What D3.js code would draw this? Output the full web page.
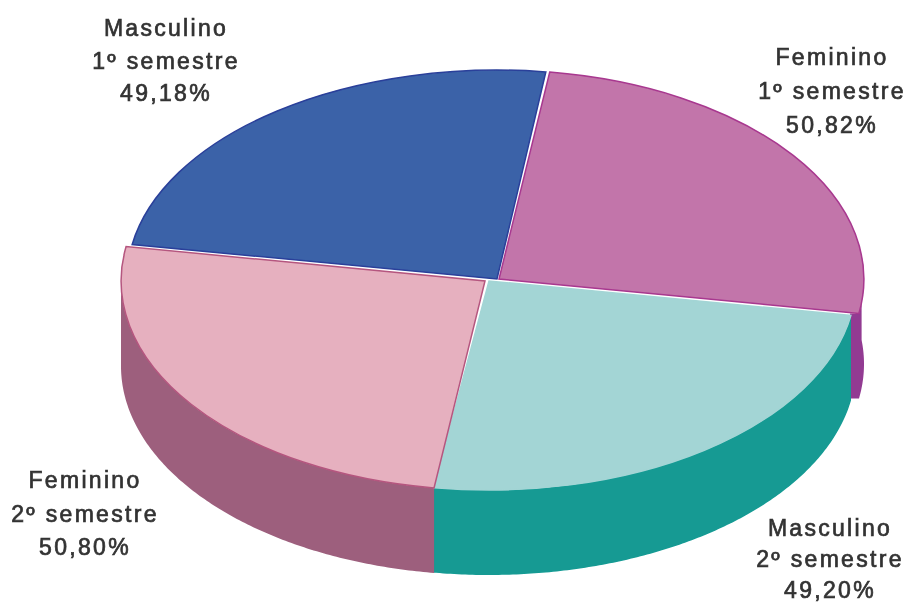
<!DOCTYPE html>
<html><head><meta charset="utf-8">
<script src="https://cdnjs.cloudflare.com/ajax/libs/d3/7.8.5/d3.min.js"></script>
<style>html,body{margin:0;padding:0;background:#fff}svg{display:block}
text{font-family:"Liberation Sans",Arial,sans-serif;font-size:23px;letter-spacing:2.3px;fill:#333;text-anchor:middle;stroke:#333;stroke-width:.7px}</style>
</head><body><svg id="c" width="907" height="602"></svg>
<script>
const categories=["Feminino 1º semestre","Masculino 2º semestre","Feminino 2º semestre","Masculino 1º semestre"];
const values=[50.82,49.20,50.80,49.18];
const labelLines=[["Feminino","1º semestre","50,82%"],["Masculino","2º semestre","49,20%"],["Feminino","2º semestre","50,80%"],["Masculino","1º semestre","49,18%"]];
const topColors=["#c274aa","#a3d5d5","#e6b0bf","#3a62a8"];
const wallColors=["#923a92","#129a93","#9d5f7d","#2b4a8c"];
const edgeColors=["#a8388f","#a3d5d5","#b5567f","#2a3f9a"];

const W=907,H=602,ry=209,depth=85,startDeg=8;
const rxs=[365,367,364,370];
const apex=[[499,279],[489,281],[485,281],[497,279]];
const labelPos=[[832,65,34],[830,536,31],[85,488,33.5],[166,36,32.5]];
const svg=d3.select("#c");
const defs=svg.append("defs");
defs.append("filter").attr("id","soft").append("feGaussianBlur").attr("stdDeviation",.55);
defs.append("filter").attr("id","softT").append("feGaussianBlur").attr("stdDeviation",.65);

const pie=d3.pie().sort(null).startAngle(startDeg*Math.PI/180).endAngle((startDeg+360)*Math.PI/180);
const arcs=pie(values);
// small drawn overlaps and gaps between neighbouring slices, as in the picture
arcs[3].endAngle-=0.4*Math.PI/180;
arcs[1].endAngle+=0.6*Math.PI/180;
const arc=d3.arc().innerRadius(0).outerRadius(1);
const g=svg.append("g").attr("filter","url(#soft)");

const rimPoint=(a,i)=>({x:apex[i][0]+rxs[i]*Math.sin(a),y:apex[i][1]-ry*Math.cos(a)});
const wall=(d,i)=>{
  const lo=i===0?d.endAngle-0.28:Math.max(d.startAngle,Math.PI/2);
  const hi=i===0?d.endAngle:Math.min(d.endAngle,Math.PI*1.5);
  const rim=d3.range(lo,hi,0.01).concat([hi]).map(a=>rimPoint(a,i));
  if(i===0){ // the pink wall runs on until it meets the teal wall
    const tealStart=rimPoint(arcs[1].startAngle,1), last=rim[rim.length-1];
    rim.push({x:tealStart.x-1,y:last.y+0.01});
  }
  return d3.area().x(p=>p.x).y0(p=>p.y).y1(p=>p.y+depth)(rim);
};
g.selectAll("path.wall").data(arcs).join("path").attr("class","wall")
  .attr("d",(d,i)=>i===3?null:wall(d,i)).attr("fill",(d,i)=>wallColors[i]);

g.selectAll("path.top").data(arcs).join("path").attr("class","top")
  .attr("transform",(d,i)=>`translate(${apex[i][0]},${apex[i][1]}) scale(${rxs[i]},${ry})`)
  .attr("d",arc).attr("fill",(d,i)=>topColors[i])
  .attr("stroke",(d,i)=>edgeColors[i]).attr("stroke-width",1.5).attr("vector-effect","non-scaling-stroke");

const t=svg.append("g").attr("filter","url(#softT)");
labelLines.forEach((lines,i)=>{
  const [x,y,lh]=labelPos[i];
  const tx=t.append("text").attr("x",x).attr("y",y);
  lines.forEach((s,j)=>tx.append("tspan").attr("x",x).attr("y",y+j*lh).text(s));
});
</script></body></html>
